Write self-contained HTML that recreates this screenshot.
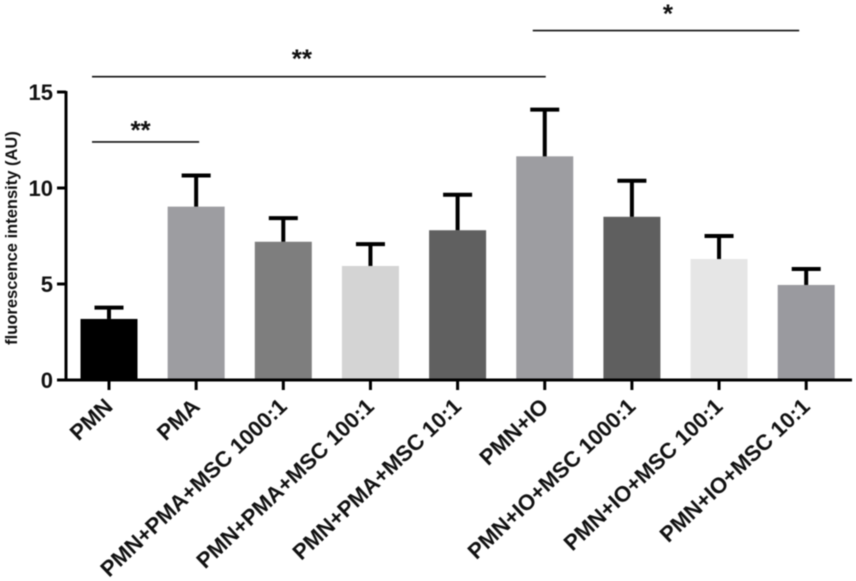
<!DOCTYPE html>
<html lang="en">
<head>
<meta charset="utf-8">
<title>Fluorescence intensity bar chart</title>
<style>
html,body{margin:0;padding:0;background:#fff;width:856px;height:581px;overflow:hidden}
svg{display:block;filter:blur(0.4px)}
text{font-family:"Liberation Sans",Arial,sans-serif;fill:#111}
</style>
</head>
<body>
<svg id="chart" width="856" height="581" viewBox="0 0 856 581" xmlns="http://www.w3.org/2000/svg"></svg>
<script>
const categories = ["PMN","PMA","PMN+PMA+MSC 1000:1","PMN+PMA+MSC 100:1","PMN+PMA+MSC 10:1","PMN+IO","PMN+IO+MSC 1000:1","PMN+IO+MSC 100:1","PMN+IO+MSC 10:1"];
const means = [3.18,9.03,7.2,5.94,7.8,11.65,8.5,6.3,4.95];
const errorTops = [3.77,10.65,8.43,7.08,9.65,14.08,10.38,7.5,5.78];
const barColors = ["#000000","#9d9da1","#7e7e7e","#d4d4d4","#606060","#9d9da1","#5f5f5f","#e6e6e6","#9a9a9f"];
const yTicks = [0,5,10,15];
const brackets = [
  {from:0,to:1,level:12.4,label:"**"},
  {from:0,to:5,level:15.8,label:"**"},
  {from:5,to:8,level:18.2,label:"*"}
];

const svg = document.getElementById('chart');
const NS = 'http://www.w3.org/2000/svg';
const y = v => 380 - v * 19.2;
const x = i => 109 + i * 87.15;
const barWidth = 57;
const bracketLeft = [-17, -17, -12];
const bracketRight = [3, 1, -7];
const starShift = [-5, -17, 2];
const starLift = [3, 9, 8];

function add(tag, attrs, parent, text) {
  const el = document.createElementNS(NS, tag);
  for (const k in attrs) el.setAttribute(k, attrs[k]);
  if (text !== undefined) el.textContent = text;
  (parent || svg).appendChild(el);
  return el;
}

categories.forEach((name, i) => {
  const slug = name.toLowerCase().replace(/[^a-z0-9]+/g, '-');
  const cx = x(i);
  const g = add('g', {});
  
  

  const bar = add('rect', {x: cx - barWidth / 2, y: y(means[i]), width: barWidth, height: 380 - y(means[i]), fill: barColors[i]}, g);
  
  

  const stem = add('line', {x1: cx, x2: cx, y1: y(means[i]), y2: y(errorTops[i]), stroke: '#000', 'stroke-width': 4}, g);
  
  

  const cap = add('line', {x1: cx - 14.5, x2: cx + 14.5, y1: y(errorTops[i]), y2: y(errorTops[i]), stroke: '#000', 'stroke-width': 4}, g);
  
  

  const tick = add('line', {x1: cx, x2: cx, y1: 380, y2: 390, stroke: '#000', 'stroke-width': 3});
  
  

  const lx = cx + 5, ly = 408;
  const label = add('text', {x: lx, y: ly, 'text-anchor': 'end', 'font-size': 22, 'font-weight': 'bold', transform: 'rotate(-43.5 ' + lx + ' ' + ly + ')'}, null, name);
  
  
});

const yAxis = add('line', {x1: 66, x2: 66, y1: 91, y2: 381.5, stroke: '#000', 'stroke-width': 3});



const xAxis = add('line', {x1: 57, x2: 852, y1: 380, y2: 380, stroke: '#000', 'stroke-width': 3});



yTicks.forEach(v => {
  const t = add('line', {x1: 57, x2: 66, y1: y(v), y2: y(v), stroke: '#000', 'stroke-width': 3});
  
  
  const l = add('text', {x: 53, y: y(v) + 8, 'text-anchor': 'end', 'font-size': 22, 'font-weight': 'bold'}, null, v);
  
  
});

const yTitle = add('text', {x: 0, y: 0, 'text-anchor': 'middle', 'font-size': 16.5, 'font-weight': 'bold', transform: 'translate(17 238) rotate(-90)'}, null, 'fluorescence intensity (AU)');



brackets.forEach((b, i) => {
  const x1 = x(b.from) + bracketLeft[i], x2 = x(b.to) + bracketRight[i];
  const ly = y(b.level);
  const line = add('line', {x1: x1, x2: x2, y1: ly, y2: ly, stroke: '#111', 'stroke-width': 1.6});
  
  
  const mid = (x1 + x2) / 2 + starShift[i];
  const star = add('text', {x: mid, y: ly - starLift[i], 'text-anchor': 'middle', 'font-size': 26, 'font-weight': 'bold'}, null, b.label);
  
  
});
</script>
</body>
</html>
